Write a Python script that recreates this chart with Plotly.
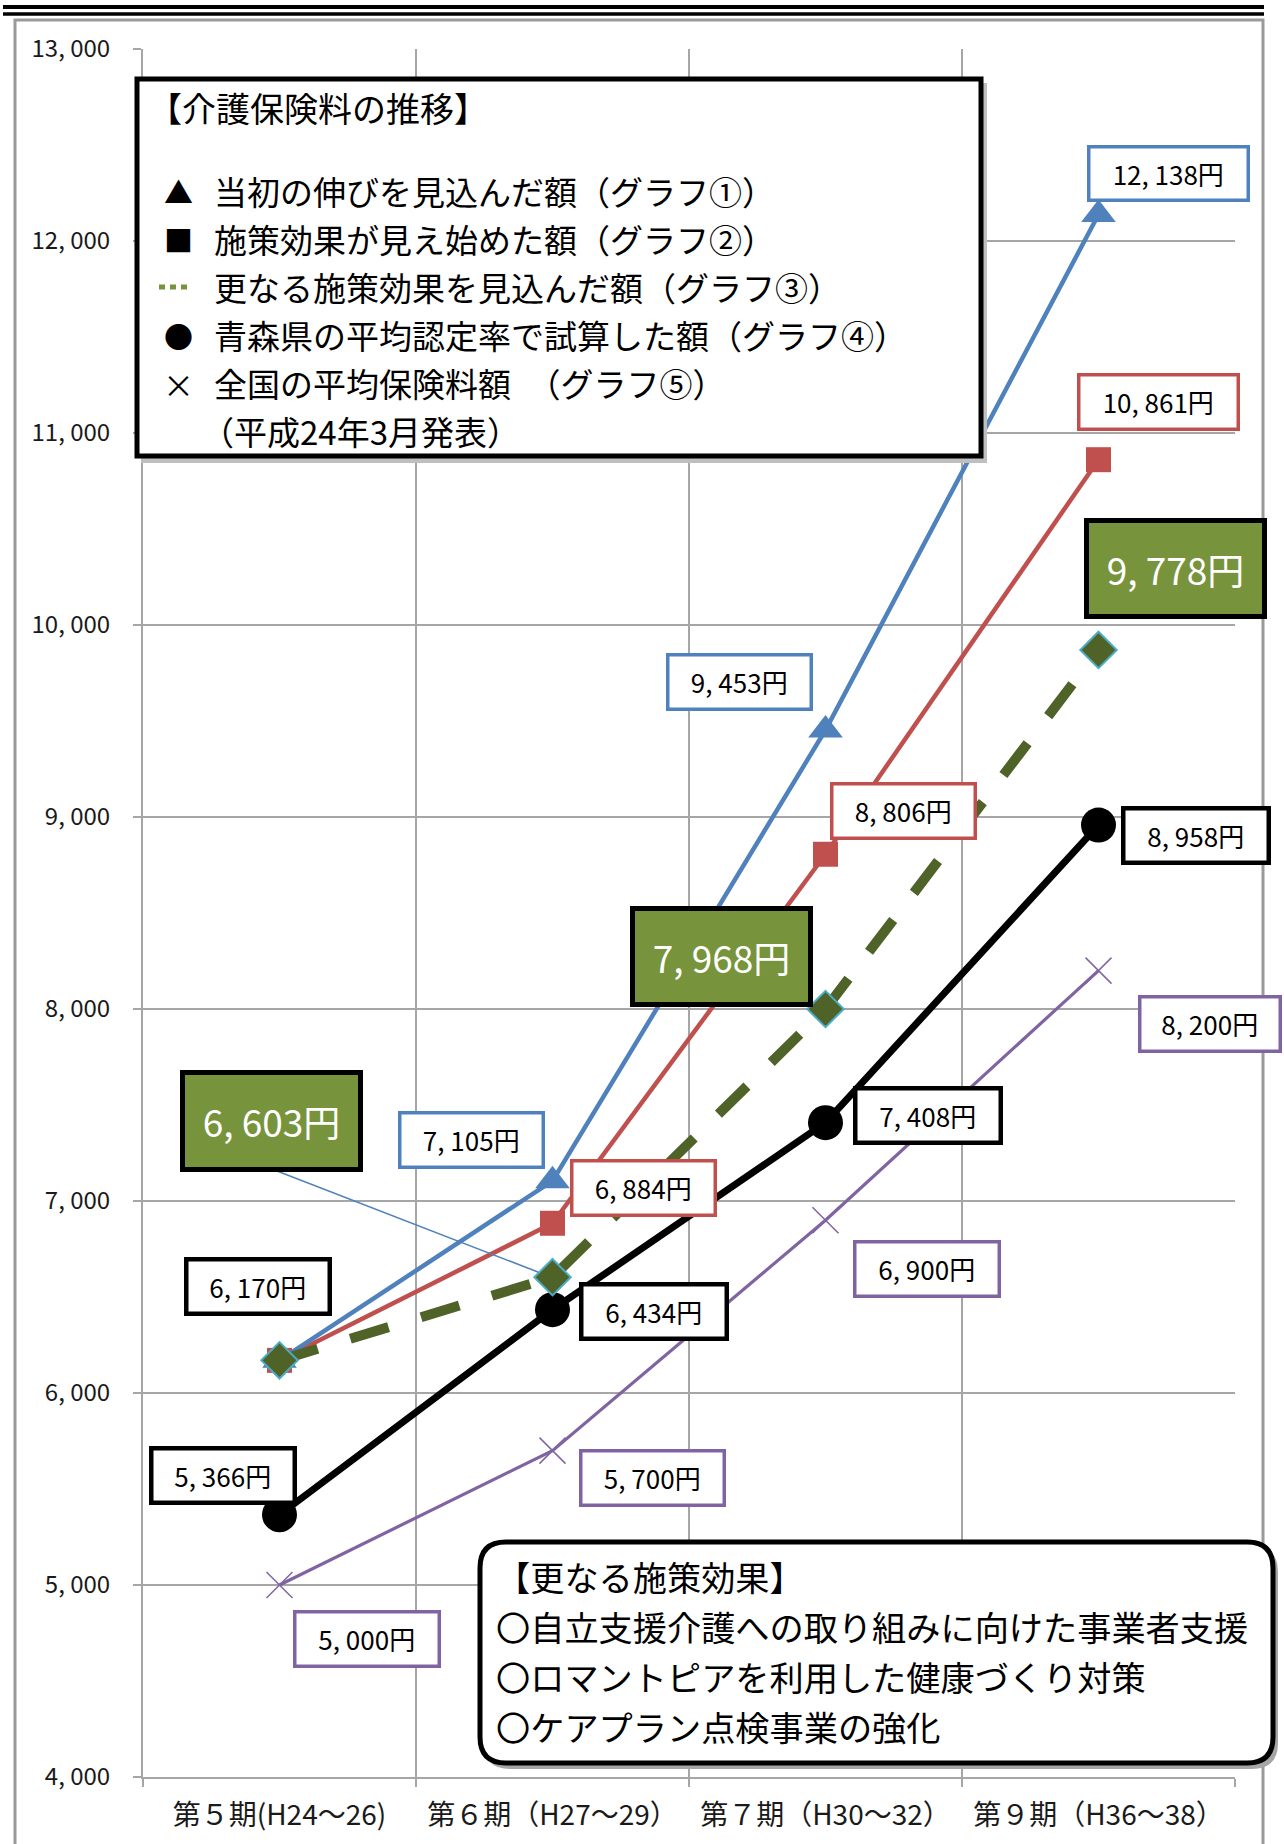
import plotly.graph_objects as go

# ---------------- data ----------------
periods = ["第５期(H24～26)", "第６期（H27～29）", "第７期（H30～32）", "第９期（H36～38）"]

initial_growth = [6170, 7105, 9453, 12138]      # グラフ①
effect_start = [6170, 6884, 8806, 10861]        # グラフ②
further_effect = [6170, 6603, 8000, 9870]       # グラフ③ (plotted positions)
aomori_rate = [5366, 6434, 7408, 8958]          # グラフ④
national_avg = [5000, 5700, 6900, 8200]         # グラフ⑤

initial_labels = [None, "7, 105円", "9, 453円", "12, 138円"]
effect_labels = ["6, 170円", "6, 884円", "8, 806円", "10, 861円"]
further_labels = [None, "6, 603円", "7, 968円", "9, 778円"]
aomori_labels = ["5, 366円", "6, 434円", "7, 408円", "8, 958円"]
national_labels = ["5, 000円", "5, 700円", "6, 900円", "8, 200円"]

y_tick_vals = [4000, 5000, 6000, 7000, 8000, 9000, 10000, 11000, 12000, 13000]
y_tick_labels = ["4, 000", "5, 000", "6, 000", "7, 000", "8, 000", "9, 000",
                 "10, 000", "11, 000", "12, 000", "13, 000"]

legend_title = "【介護保険料の推移】"
legend_items = ["当初の伸びを見込んだ額（グラフ①）",
                "施策効果が見え始めた額（グラフ②）",
                "更なる施策効果を見込んだ額（グラフ③）",
                "青森県の平均認定率で試算した額（グラフ④）",
                "全国の平均保険料額　（グラフ⑤）",
                "（平成24年3月発表）"]
legend_symbols = ["▲", "■", None, "●", "×", None]

effect_box_lines = ["【更なる施策効果】",
                    "〇自立支援介護への取り組みに向けた事業者支援",
                    "〇ロマントピアを利用した健康づくり対策",
                    "〇ケアプラン点検事業の強化"]

# ---------------- styling ----------------
FONT = "Noto Sans CJK JP"
BLUE = "#4F81BD"
RED = "#C0504D"
GREEN_LINE = "#4F6228"
GREEN_BOX = "#77933C"
PURPLE = "#8064A2"
GRID = "#A6A6A6"

W, H = 1284, 1844
L, R, T, B = 143, 49, 49, 67
PW, PH = W - L - R, H - T - B


def px(x):
    return (x - L) / PW


def py(y):
    return (H - B - y) / PH


fig = go.Figure()

fig.add_trace(go.Scatter(x=periods, y=national_avg, mode="lines+markers",
                         line=dict(color=PURPLE, width=3.2),
                         marker=dict(symbol="x-thin", size=26,
                                     line=dict(color=PURPLE, width=1.5))))
fig.add_trace(go.Scatter(x=periods, y=aomori_rate, mode="lines+markers",
                         line=dict(color="black", width=7),
                         marker=dict(symbol="circle", size=35, color="black")))
fig.add_trace(go.Scatter(x=periods, y=effect_start, mode="lines+markers",
                         line=dict(color=RED, width=4.5),
                         marker=dict(symbol="square", size=25, color=RED)))
fig.add_trace(go.Scatter(x=periods, y=initial_growth, mode="lines+markers",
                         line=dict(color=BLUE, width=4.5),
                         marker=dict(symbol="triangle-up", size=30, color=BLUE)))
fig.add_trace(go.Scatter(x=periods, y=further_effect, mode="lines+markers",
                         line=dict(color=GREEN_LINE, width=10, dash="40px,34px"),
                         marker=dict(symbol="diamond", size=28, color=GREEN_LINE,
                                     line=dict(color="#4BACC6", width=2))))


def add_label(xi, yv, text, ax, ay, border, bw=3.5, fill="white",
              fcolor="black", fsize=26, bw_w=143, bw_h=54):
    fig.add_annotation(x=periods[xi], y=yv, xref="x", yref="y", text=text,
                       showarrow=True, arrowcolor="rgba(0,0,0,0)", arrowwidth=0.1,
                       ax=ax, ay=ay, bgcolor=fill, bordercolor=border,
                       borderwidth=bw, borderpad=0,
                       width=bw_w - bw, height=bw_h - bw,
                       align="center", valign="middle",
                       font=dict(family=FONT, size=fsize, color=fcolor))


# blue labels
add_label(3, initial_growth[3], initial_labels[3], 70, -41, BLUE, bw_w=159, bw_h=53)
add_label(2, initial_growth[2], initial_labels[2], -86, -48, BLUE)
add_label(1, initial_growth[1], initial_labels[1], -81, -41, BLUE)
# red labels
add_label(3, effect_start[3], effect_labels[3], 60, -58, RED, bw_w=159)
add_label(2, effect_start[2], effect_labels[2], 78, -43, RED)
add_label(1, effect_start[1], effect_labels[1], 91, -35, RED)
add_label(0, effect_start[0], effect_labels[0], -22, -74, "black", bw=4.5)
# green labels
add_label(3, further_effect[3], further_labels[3], 77, -81, "black", bw=5,
          fill=GREEN_BOX, fcolor="white", fsize=37, bw_w=178, bw_h=96)
add_label(2, further_effect[2], further_labels[2], -104, -53, "black", bw=5,
          fill=GREEN_BOX, fcolor="white", fsize=37, bw_w=178, bw_h=96)
add_label(1, further_effect[1], further_labels[1], -281, -156, "black", bw=5,
          fill=GREEN_BOX, fcolor="white", fsize=37, bw_w=178, bw_h=97)
# black labels
add_label(3, aomori_rate[3], aomori_labels[3], 97, 10, "black", bw=4.5, bw_w=145)
add_label(2, aomori_rate[2], aomori_labels[2], 102, -7, "black", bw=4.5, bw_w=145)
add_label(1, aomori_rate[1], aomori_labels[1], 101, 2, "black", bw=4.5, bw_w=145)
add_label(0, aomori_rate[0], aomori_labels[0], -57, -39, "black", bw=4.5)
# purple labels
add_label(3, national_avg[3], national_labels[3], 111, 53, PURPLE, bw_w=140)
add_label(2, national_avg[2], national_labels[2], 101, 49, PURPLE, bw_w=144)
add_label(1, national_avg[1], national_labels[1], 100, 27, PURPLE)
add_label(0, national_avg[0], national_labels[0], 87, 54, PURPLE, bw_w=144)

# leader line from the 6,603 box to its diamond
fig.add_shape(type="line", xref="x", yref="y", xsizemode="pixel", ysizemode="pixel",
              xanchor=periods[1], yanchor=further_effect[1],
              x0=-14, y0=5, x1=-280, y1=108,
              line=dict(color=BLUE, width=1.5))

# ---------------- frame decorations ----------------
legend_rows = [191, 239, 287, 335, 383, 431]

shapes = []
# top double rule
shapes.append(dict(type="line", xref="paper", yref="paper", x0=px(3), x1=px(1264),
                   y0=py(7), y1=py(7), line=dict(color="black", width=4)))
shapes.append(dict(type="line", xref="paper", yref="paper", x0=px(3), x1=px(1264),
                   y0=py(14), y1=py(14), line=dict(color="black", width=3.5)))
# outer gray frame
shapes.append(dict(type="rect", xref="paper", yref="paper", x0=px(15), x1=px(1263),
                   y0=py(1900), y1=py(20), line=dict(color="#9A9A9A", width=3),
                   layer="below"))

# legend box with shadow
shapes.append(dict(type="rect", xref="paper", yref="paper", x0=px(141), x1=px(987),
                   y0=py(463), y1=py(83), line=dict(width=0), fillcolor="#BFBFBF"))
shapes.append(dict(type="rect", xref="paper", yref="paper", x0=px(137), x1=px(981),
                   y0=py(456), y1=py(79), line=dict(color="black", width=5),
                   fillcolor="white"))
# legend dotted green sample
shapes.append(dict(type="line", xref="paper", yref="paper", x0=px(159), x1=px(192),
                   y0=py(legend_rows[2]), y1=py(legend_rows[2]),
                   line=dict(color=GREEN_BOX, width=5, dash="6px,5px")))


def rounded_path(x0, y0, x1, y1, r):
    X0, X1 = px(x0), px(x1)
    Y0, Y1 = py(y0), py(y1)
    rx, ry = r / PW, r / PH
    return (f"M {X0 + rx},{Y0} L {X1 - rx},{Y0} Q {X1},{Y0} {X1},{Y0 - ry} "
            f"L {X1},{Y1 + ry} Q {X1},{Y1} {X1 - rx},{Y1} "
            f"L {X0 + rx},{Y1} Q {X0},{Y1} {X0},{Y1 + ry} "
            f"L {X0},{Y0 - ry} Q {X0},{Y0} {X0 + rx},{Y0} Z")


shapes.append(dict(type="path", xref="paper", yref="paper",
                   path=rounded_path(484, 1546, 1278, 1769, 26),
                   line=dict(width=0), fillcolor="#A6A6A6"))
shapes.append(dict(type="path", xref="paper", yref="paper",
                   path=rounded_path(480, 1542, 1273, 1763, 26),
                   line=dict(color="black", width=5), fillcolor="white"))

fig.update_layout(shapes=list(fig.layout.shapes) + shapes)

# legend texts, one annotation per row
fig.add_annotation(xref="paper", yref="paper", x=px(146), y=py(108), text=legend_title,
                   showarrow=False, xanchor="left", yanchor="middle",
                   font=dict(family=FONT, size=34, color="black"))
legend_x = [212, 212, 212, 212, 212, 199]
for row_y, row_x, item, sym in zip(legend_rows, legend_x, legend_items, legend_symbols):
    fig.add_annotation(xref="paper", yref="paper", x=px(row_x), y=py(row_y), text=item,
                       showarrow=False, xanchor="left", yanchor="middle",
                       font=dict(family=FONT, size=33, color="black"))
    if sym:
        fig.add_annotation(xref="paper", yref="paper", x=px(178), y=py(row_y), text=sym,
                           showarrow=False, xanchor="center", yanchor="middle",
                           font=dict(family=FONT, size=29 if sym != "×" else 31,
                                     color="black"))

# bottom box texts, one annotation per row
for row_y, line in zip([1576, 1626, 1676, 1726], effect_box_lines):
    fig.add_annotation(xref="paper", yref="paper", x=px(494), y=py(row_y), text=line,
                       showarrow=False, xanchor="left", yanchor="middle",
                       font=dict(family=FONT, size=34.2, color="black"))

fig.update_layout(
    width=W, height=H,
    margin=dict(l=L, r=R, t=T, b=B),
    plot_bgcolor="white", paper_bgcolor="white",
    showlegend=False,
    font=dict(family=FONT, color="#222222"),
    xaxis=dict(type="category", range=[-0.5, 3.5], tickson="boundaries",
               showgrid=True, gridcolor=GRID, gridwidth=2,
               showline=True, linecolor=GRID, linewidth=2,
               ticks="outside", ticklen=8, tickcolor=GRID, tickwidth=2,
               ticklabelstandoff=12,
               tickfont=dict(family=FONT, size=28, color="#1a1a1a")),
    yaxis=dict(range=[4000, 13000], tickvals=y_tick_vals, ticktext=y_tick_labels,
               showgrid=True, gridcolor=GRID, gridwidth=2, zeroline=False,
               showline=True, linecolor=GRID, linewidth=2,
               ticks="outside", ticklen=8, tickcolor=GRID, tickwidth=2,
               ticklabelstandoff=18,
               tickfont=dict(family=FONT, size=24, color="#1a1a1a")),
)

fig.write_html("out.html")
